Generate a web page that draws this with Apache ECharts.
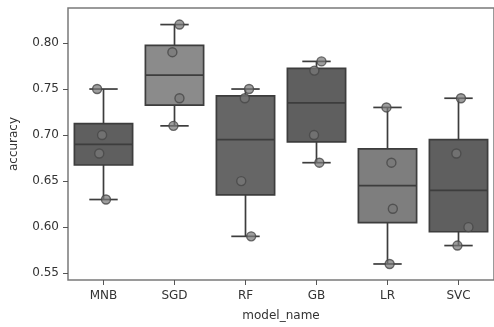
<!DOCTYPE html>
<html><head><meta charset="utf-8">
<script src="https://cdn.jsdelivr.net/npm/echarts@6/dist/echarts.min.js"></script>
<style>html,body{margin:0;padding:0;background:#fff}#c{width:494px;height:327px}</style>
</head><body><div id="c"></div>
<script>
var categories = ['MNB', 'SGD', 'RF', 'GB', 'LR', 'SVC'];
var accMNB = [0.75, 0.70, 0.68, 0.63];
var accSGD = [0.82, 0.79, 0.74, 0.71];
var accRF  = [0.75, 0.74, 0.65, 0.59];
var accGB  = [0.78, 0.77, 0.70, 0.67];
var accLR  = [0.73, 0.67, 0.62, 0.56];
var accSVC = [0.74, 0.68, 0.60, 0.58];
var jitterMNB = [-0.09, -0.02, -0.06, 0.035];
var jitterSGD = [0.07, -0.03, 0.07, -0.015];
var jitterRF  = [0.05, -0.01, -0.06, 0.08];
var jitterGB  = [0.07, -0.03, -0.035, 0.04];
var jitterLR  = [-0.015, 0.055, 0.075, 0.03];
var jitterSVC = [0.035, -0.03, 0.14, -0.015];
var yTicks = [0.55, 0.60, 0.65, 0.70, 0.75, 0.80];

var allAcc = [accMNB, accSGD, accRF, accGB, accLR, accSVC];
var allJit = [jitterMNB, jitterSGD, jitterRF, jitterGB, jitterLR, jitterSVC];
var boxFill = ['#5f5f5f', '#8b8b8b', '#666666', '#5f5f5f', '#7e7e7e', '#5f5f5f'];

function quant(sorted, p) {
  var pos = (sorted.length - 1) * p, lo = Math.floor(pos), hi = Math.ceil(pos);
  return sorted[lo] + (sorted[hi] - sorted[lo]) * (pos - lo);
}
var boxData = allAcc.map(function (v, i) {
  var s = v.slice().sort(function (a, b) { return a - b; });
  var q1 = quant(s, 0.25), q2 = quant(s, 0.5), q3 = quant(s, 0.75), iqr = q3 - q1;
  var lo = s.filter(function (x) { return x >= q1 - 1.5 * iqr; })[0];
  var hiArr = s.filter(function (x) { return x <= q3 + 1.5 * iqr; });
  var hi = hiArr[hiArr.length - 1];
  return [i, lo, q1, q2, q3, hi];
});
var pts = [];
allAcc.forEach(function (v, i) {
  v.forEach(function (y, j) { pts.push([i + allJit[i][j], y]); });
});

var lineCol = '#3d3d3d';
var font = { fontFamily: 'DejaVu Sans', fontSize: 12, color: '#333' };
var chart = echarts.init(document.getElementById('c'));
chart.setOption({
  animation: false,
  grid: { left: 64, top: 8, width: 432, height: 278, show: true, borderColor: '#7a7a7a', borderWidth: 1.5, backgroundColor: 'transparent' },
  xAxis: [{
    type: 'value', min: -0.5, max: 5.5, interval: 1,
    name: 'model_name', nameLocation: 'middle', nameGap: 30,
    nameTextStyle: font,
    axisLine: { show: false, onZero: false }, splitLine: { show: false },
    axisTick: { show: true, length: 5, lineStyle: { color: '#555' }, customValues: [0, 1, 2, 3, 4, 5] },
    axisLabel: Object.assign({ customValues: [0, 1, 2, 3, 4, 5], formatter: function (v) { return categories[Math.round(v)] || ''; }, margin: 10 }, font)
  }],
  yAxis: [{
    type: 'value', min: 0.5426, max: 0.838,
    name: 'accuracy', nameLocation: 'middle', nameGap: 48,
    nameTextStyle: font,
    axisLine: { show: false, onZero: false }, splitLine: { show: false },
    axisTick: { show: true, length: 5, lineStyle: { color: '#555' }, customValues: yTicks },
    axisLabel: Object.assign({ customValues: yTicks, formatter: function (v) { return v.toFixed(2); }, margin: 9 }, font)
  }],
  series: [{
    type: 'custom',
    data: boxData,
    encode: { x: 0, y: [1, 2, 3, 4, 5] },
    renderItem: function (params, api) {
      var i = api.value(0);
      var c = function (v) { return api.coord([i, v]); };
      var band = api.size([1, 0])[0];
      var hw = band * 0.41, cw = band * 0.2;
      var pMin = c(api.value(1)), pQ1 = c(api.value(2)), pMed = c(api.value(3)), pQ3 = c(api.value(4)), pMax = c(api.value(5));
      var x = pMed[0];
      var ls = { stroke: lineCol, lineWidth: 1.7 };
      return {
        type: 'group',
        children: [
          { type: 'line', shape: { x1: x, y1: pQ1[1], x2: x, y2: pMin[1] }, style: ls },
          { type: 'line', shape: { x1: x, y1: pQ3[1], x2: x, y2: pMax[1] }, style: ls },
          { type: 'line', shape: { x1: x - cw, y1: pMin[1], x2: x + cw, y2: pMin[1] }, style: ls },
          { type: 'line', shape: { x1: x - cw, y1: pMax[1], x2: x + cw, y2: pMax[1] }, style: ls },
          { type: 'rect', shape: { x: x - hw, y: pQ3[1], width: 2 * hw, height: pQ1[1] - pQ3[1] },
            style: { fill: boxFill[i], stroke: lineCol, lineWidth: 1.7 } },
          { type: 'line', shape: { x1: x - hw, y1: pMed[1], x2: x + hw, y2: pMed[1] }, style: ls }
        ]
      };
    },
    z: 2
  }, {
    type: 'scatter',
    data: pts,
    symbol: 'circle',
    symbolSize: 9,
    itemStyle: { color: 'rgba(120,120,120,0.9)', borderColor: '#474747', borderWidth: 1.4 },
    z: 3
  }]
});
</script>
</body></html>
